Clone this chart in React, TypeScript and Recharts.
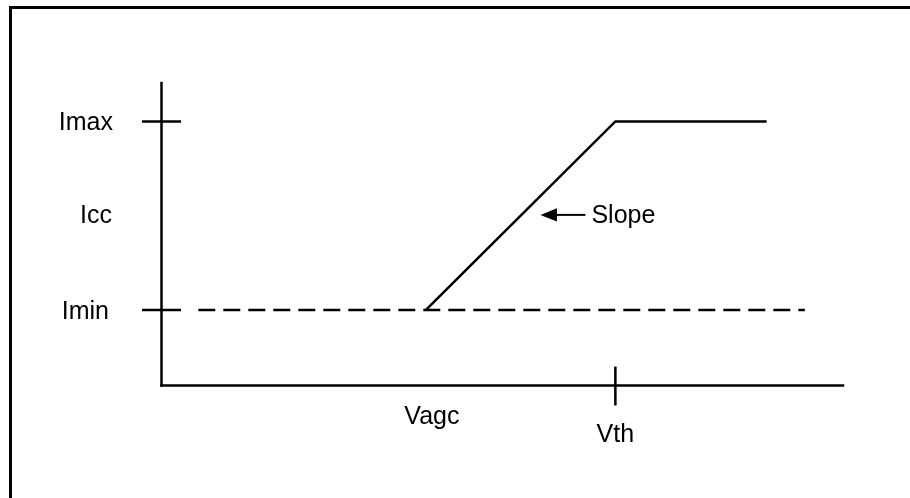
import React from 'react';
import { ComposedChart, Line, XAxis, YAxis, ReferenceDot } from 'recharts';

// Conceptual units: horizontal axis 0..100, vertical axis 0..100
const curveX = [38.8, 66.6, 88.8];
const curveY = [25, 87.3, 87.3];
const dashX = [5.4, 94.4];
const dashY = [25, 25];

const yTickValues = [25, 56.7, 87.3];
const yTickLabels = ['Imin', 'Icc', 'Imax'];
const yTickMarked = [true, false, true];

const xTickValues = [38.8, 66.6];
const xTickLabels = ['Vagc', 'Vth'];
const xTickMarked = [false, true];

const slopePoint = { x: 55.6, y: 56.4 };
const slopeLabel = 'Slope';

const curveData = curveX.map((x, i) => ({ x, y: curveY[i] }));
const dashData = dashX.map((x, i) => ({ x, y: dashY[i] }));

const FONT = "'Liberation Sans', Arial, Helvetica, sans-serif";
const FS = 25;
const SW = 2.5;

const yLabelDx: Record<string, number> = { Imax: -48.5, Icc: -49.5, Imin: -52.5 };
const xLabelStyle: Record<string, { dx: number; dy: number }> = {
  Vagc: { dx: 6, dy: 38.5 },
  Vth: { dx: 0, dy: 56 },
};

const YTick = (props: any) => {
  const { x, y, payload } = props;
  const i = yTickValues.indexOf(payload.value);
  const label = yTickLabels[i];
  return (
    <g>
      {yTickMarked[i] && (
        <line x1={x - 19.5} x2={x + 19.5} y1={y} y2={y} stroke="#000" strokeWidth={SW} />
      )}
      <text x={x + (yLabelDx[label] ?? -50)} y={y + 8.7} textAnchor="end" fontFamily={FONT} fontSize={FS} fill="#000">
        {label}
      </text>
    </g>
  );
};

const XTick = (props: any) => {
  const { x, y, payload } = props;
  const i = xTickValues.indexOf(payload.value);
  const label = xTickLabels[i];
  const st = xLabelStyle[label] ?? { dx: 0, dy: 40 };
  return (
    <g>
      {xTickMarked[i] && (
        <line x1={x} x2={x} y1={y - 19} y2={y + 20} stroke="#000" strokeWidth={SW} />
      )}
      <text x={x + st.dx} y={y + st.dy} textAnchor="middle" fontFamily={FONT} fontSize={FS} fill="#000">
        {label}
      </text>
    </g>
  );
};

const SlopeArrow = (props: any) => {
  const { cx, cy } = props;
  return (
    <g>
      <polygon points={`${cx},${cy} ${cx + 16.5},${cy - 6.7} ${cx + 16.5},${cy + 6.7}`} fill="#000" />
      <line x1={cx + 15} x2={cx + 45} y1={cy} y2={cy} stroke="#000" strokeWidth={2} />
      <text x={cx + 51} y={cy + 8.5} fontFamily={FONT} fontSize={FS} fill="#000">
        {slopeLabel}
      </text>
    </g>
  );
};

export default function App() {
  return (
    <div style={{ position: 'fixed', left: 0, top: 0, width: 910, height: 498 }}>
      <ComposedChart
        width={910}
        height={498}
        margin={{ top: 83, right: 67, left: 0, bottom: 0 }}
        accessibilityLayer={false}
      >
        <XAxis
          type="number"
          dataKey="x"
          domain={[0, 100]}
          allowDataOverflow
          ticks={xTickValues}
          interval={0}
          height={112.5}
          tickSize={0}
          tickMargin={0}
          tickLine={false}
          axisLine={{ stroke: '#000', strokeWidth: SW, strokeLinecap: 'square' }}
          tick={<XTick />}
        />
        <YAxis
          type="number"
          dataKey="y"
          domain={[0, 100]}
          allowDataOverflow
          ticks={yTickValues}
          interval={0}
          width={161.5}
          tickSize={0}
          tickMargin={0}
          tickLine={false}
          axisLine={{ stroke: '#000', strokeWidth: SW, strokeLinecap: 'square' }}
          tick={<YTick />}
        />
        <Line
          data={dashData}
          dataKey="y"
          type="linear"
          stroke="#000"
          strokeWidth={SW}
          strokeDasharray="17 8"
          dot={false}
          activeDot={false}
          isAnimationActive={false}
        />
        <Line
          data={curveData}
          dataKey="y"
          type="linear"
          stroke="#000"
          strokeWidth={SW}
          dot={false}
          activeDot={false}
          isAnimationActive={false}
        />
        <ReferenceDot x={slopePoint.x} y={slopePoint.y} r={1} shape={<SlopeArrow />} />
      </ComposedChart>
      <div style={{ position: 'absolute', left: 9, top: 6, width: 901, height: 3, background: '#000' }} />
      <div style={{ position: 'absolute', left: 9, top: 6, width: 3, height: 492, background: '#000' }} />
    </div>
  );
}
